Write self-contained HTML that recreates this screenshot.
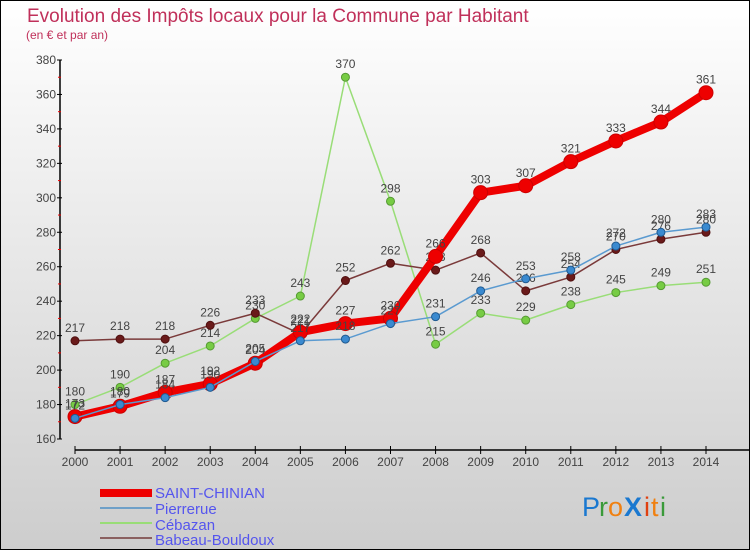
<!DOCTYPE html>
<html><head><meta charset="utf-8">
<style>
html,body{margin:0;padding:0;}
body{width:750px;height:550px;overflow:hidden;font-family:"Liberation Sans",sans-serif;}
</style></head>
<body>
<svg id="chart" width="750" height="550" xmlns="http://www.w3.org/2000/svg">
<defs>
<linearGradient id="bg" x1="0" y1="0" x2="0" y2="1">
<stop offset="0" stop-color="#ffffff"/><stop offset="1" stop-color="#cdcdcd"/>
</linearGradient>
</defs>
<rect x="0.5" y="0.5" width="749" height="549" fill="url(#bg)" stroke="#000"/>
<text x="27" y="22" font-size="19" fill="#c0305a">Evolution des Impôts locaux pour la Commune par Habitant</text>
<text x="26" y="39" font-size="12" fill="#c0305a">(en € et par an)</text>
<g id="axes"></g>
<g id="series"></g>
<g id="legend">
<rect x="100" y="489" width="52" height="8" fill="#ee0000"/>
<text x="155" y="498" font-size="15" fill="#5555ee">SAINT-CHINIAN</text>
<rect x="100" y="507" width="52" height="2" fill="#6fa0c8"/>
<text x="155" y="514" font-size="15" fill="#5555ee">Pierrerue</text>
<rect x="100" y="522" width="52" height="2" fill="#99dd77"/>
<text x="155" y="530" font-size="15" fill="#5555ee">Cébazan</text>
<rect x="100" y="537" width="52" height="2" fill="#8a6060"/>
<text x="155" y="545" font-size="15" fill="#5555ee">Babeau-Bouldoux</text>
</g>
<g font-size="27">
<text x="582" y="516" fill="#1a78d0">P</text>
<text x="599" y="516" fill="#3a9a3a">r</text>
<text x="608" y="516" fill="#f08010">o</text>
<text x="624" y="516" fill="#1a78d0" font-weight="bold">X</text>
<text x="644" y="516" fill="#e04010">i</text>
<text x="651" y="516" fill="#f08010">t</text>
<text x="660" y="516" fill="#3a9a3a">i</text>
</g>
</svg>
<script>
const years = [2000,2001,2002,2003,2004,2005,2006,2007,2008,2009,2010,2011,2012,2013,2014];
const saintChinian = [173,179,187,192,204,222,227,230,266,303,307,321,333,344,361];
const pierrerue = [172,180,184,190,205,217,218,227,231,246,253,258,272,280,283];
const cebazan = [180,190,204,214,230,243,370,298,215,233,229,238,245,249,251];
const babeau = [217,218,218,226,233,221,252,262,258,268,246,254,270,276,280];
const yTicks = [160,180,200,220,240,260,280,300,320,340,360,380];

const NS="http://www.w3.org/2000/svg";
function xS(i){return 75+i*(706-75)/14;}
function yS(v){return 439-(v-160)*(439-60)/220;}
function mk(tag,attrs,parent){const e=document.createElementNS(NS,tag);for(const k in attrs)e.setAttribute(k,attrs[k]);parent.appendChild(e);return e;}
const axes=document.getElementById('axes');
const yAxis=mk('line',{x1:60,y1:60,x2:60,y2:439,stroke:'#000','stroke-width':1.5},axes);


yTicks.forEach((t,k)=>{
  const y=yS(t);
  mk('line',{x1:57,y1:y,x2:62,y2:y,stroke:'#000'},axes);
  if(k<yTicks.length-1){mk('line',{x1:58,y1:y-(439-60)/22,x2:61,y2:y-(439-60)/22,stroke:'#e00'},axes);}
  const tx=mk('text',{x:56,y:y+4,'font-size':12,fill:'#444','text-anchor':'end'},axes);
  tx.textContent=t;
  
  
});
const xAxis=mk('line',{x1:75,y1:450,x2:750,y2:450,stroke:'#000','stroke-width':1.5},axes);


years.forEach((yr,i)=>{
  const x=xS(i);
  mk('line',{x1:x,y1:446,x2:x,y2:454,stroke:'#000'},axes);
  const tx=mk('text',{x:x,y:466,'font-size':12,fill:'#444','text-anchor':'middle'},axes);
  tx.textContent=yr;
  
  
});
const sg=document.getElementById('series');
function draw(vals,name,color,w,r,ptFill,ptStroke){
  const g=mk('g',{},sg);
  
  
  const pts=vals.map((v,i)=>xS(i)+','+yS(v)).join(' ');
  const pl=mk('polyline',{points:pts,fill:'none',stroke:color,'stroke-width':w,'stroke-linejoin':'round'},g);
  
  
  vals.forEach((v,i)=>{
    const c=mk('circle',{cx:xS(i),cy:yS(v),r:r,fill:ptFill,stroke:ptStroke,'stroke-width':1},g);
    
    
    const t=mk('text',{x:xS(i),y:yS(v)-9,'font-size':12,fill:'#444','text-anchor':'middle'},g);
    t.textContent=v;
    
    
  });
}
draw(cebazan,'cebazan','#99dd77',1.5,4,'#77cc44','#559933');
draw(babeau,'babeau-bouldoux','#7a3a3a',1.5,4,'#6a1a1a','#501010');
draw(saintChinian,'saint-chinian','#ee0000',8,7,'#ee0000','#cc0000');
draw(pierrerue,'pierrerue','#5a9ad0',1.5,4,'#3a8ad0','#205a90');
</script>
</body></html>
